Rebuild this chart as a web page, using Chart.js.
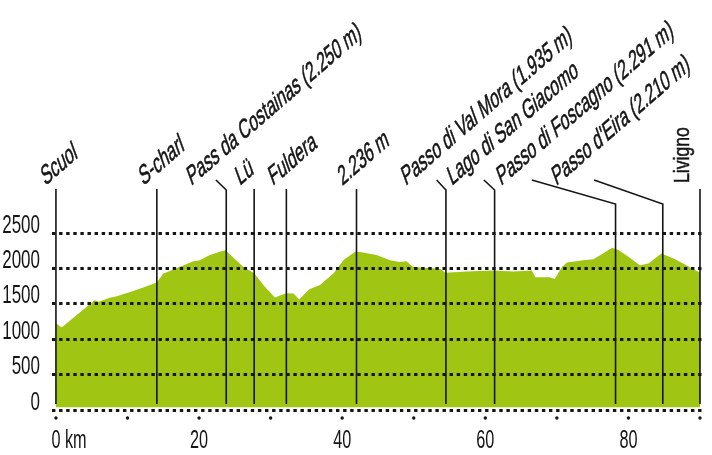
<!DOCTYPE html>
<html>
<head>
<meta charset="utf-8">
<script src="https://cdn.jsdelivr.net/npm/chart.js@4/dist/chart.umd.min.js"></script>
<style>
  body { margin: 0; background: #fff; }
</style>
</head>
<body>
<canvas id="profile" width="712" height="455"></canvas>
<script>
// ===== DATA =====
// route profile: distance (km) and height (m)
const routeKm = [0, 0.8, 5.4, 6.0, 7.5, 8.5, 10.8, 12.5, 14.1, 15.0, 15.5, 16.9, 19.2, 20.1, 21.5, 23.0, 23.7,
  24.8, 26.2, 27.7, 29.1, 30.6, 31.5, 32.2, 33.2, 34.0, 35.4, 36.9, 38.8, 40.2, 41.8, 42.5, 44.8, 46.7,
  48.0, 49.0, 49.9, 53.7, 54.4, 57.4, 61.1, 63.9, 66.5, 67.0, 69.0, 69.7, 70.7, 71.4, 73.7, 75.1, 76.5,
  77.7, 78.6, 80.0, 81.6, 82.8, 84.6, 86.3, 88.1, 90.0];
const routeHeight = [1225, 1165, 1550, 1530, 1585, 1608, 1680, 1740, 1800, 1928, 1946, 2005, 2100, 2116, 2188, 2240, 2258,
  2150, 2019, 1930, 1750, 1590, 1625, 1650, 1645, 1560, 1706, 1765, 1930, 2120, 2236, 2232, 2188, 2116,
  2091, 2100, 2019, 1995, 1938, 1957, 1971, 1957, 1971, 1874, 1874, 1850, 2019, 2082, 2116, 2130, 2213,
  2291, 2260, 2163, 2043, 2068, 2210, 2140, 2043, 1938];

// places along the route
const placeNames = ["Scuol", "S-charl", "Pass da Costainas (2.250 m)", "Lü", "Fuldera", "2.236 m",
  "Passo di Val Mora (1.935 m)", "Lago di San Giacomo", "Passo di Foscagno (2.291 m)",
  "Passo d'Eira (2.210 m)", "Livigno"];
const placeKm = [0, 14.1, 23.8, 27.7, 32.2, 42.0, 54.5, 61.3, 78.2, 84.8, 90.0];

// axis ticks
const kmTicks = [0, 10, 20, 30, 40, 50, 60, 70, 80, 90];
const kmLabels = ["0 km", "", "20", "", "40", "", "60", "", "80", ""];
const heightTicks = [0, 500, 1000, 1500, 2000, 2500];
const heightLabels = ["0", "500", "1000", "1500", "2000", "2500"];

// ===== LABEL LAYOUT (in km, so it follows the x scale) =====
const textKm = [-1.5, 12.2, 18.9, 25.7, 30.3, 40.0, 48.9, 55.3, 62.2, 69.9, null];
const leaderKm = [0, 14.1, 22.36, 27.7, 32.2, 42.0, 53.2, 59.8, 66.5, 75.2, 90.0];
const bendDrop = [0, 0, 10, 0, 0, 0, 10, 10, 24, 24, 0];

const GREEN = "#a0c613";
const INK = "#151515";
const FONT = '"Liberation Sans", Arial, sans-serif';

// condensed text helper
function narrowText(ctx, text, x, y, size, squeeze, align) {
  ctx.save();
  ctx.font = size + "px " + FONT;
  ctx.translate(x, y);
  ctx.scale(squeeze, 1);
  ctx.textAlign = align;
  ctx.textBaseline = "alphabetic";
  ctx.fillText(text, 0, 0);
  ctx.restore();
}

// ===== AXIS LABELS (positions from the chart scales) =====
const axisLabelsPlugin = {
  id: "axisLabels",
  afterDraw(chart) {
    const ctx = chart.ctx;
    const { x, y } = chart.scales;
    ctx.save();
    ctx.fillStyle = INK;

    y.ticks.forEach((t, i) => {
      narrowText(ctx, heightLabels[i], 40, y.getPixelForValue(t.value) - 0.5, 25, 0.68, "right");
    });

    x.ticks.forEach((t, i) => {
      const label = kmLabels[i];
      if (!label) return;
      const px = x.getPixelForValue(t.value);
      if (i === 0) {
        // "0" sits on the tick, "km" runs to the right
        ctx.font = "25px " + FONT;
        const half = ctx.measureText("0").width * 0.65 / 2;
        narrowText(ctx, label, px - half, 448, 25, 0.65, "left");
      } else {
        narrowText(ctx, label, px, 448, 25, 0.65, "center");
      }
    });

    // small dots under the km axis
    kmTicks.forEach(v => {
      ctx.beginPath();
      ctx.arc(x.getPixelForValue(v), chart.chartArea.bottom + 8, 1.7, 0, Math.PI * 2);
      ctx.fill();
    });
    ctx.restore();
  }
};

// ===== PLACE LABELS + LINES =====
const placesPlugin = {
  id: "places",
  afterDraw(chart) {
    const ctx = chart.ctx;
    const x = chart.scales.x;
    const area = chart.chartArea;
    const lineEnd = area.bottom - 6;
    const textY = 186;
    const a = 41 * Math.PI / 180;   // baseline angle
    const b = 110 * Math.PI / 180;  // direction of the letter stems
    const s1 = 0.8, s2 = 1.18;

    ctx.save();
    ctx.strokeStyle = INK;
    ctx.fillStyle = INK;
    ctx.lineWidth = 1.6;

    placeNames.forEach((name, i) => {
      const px = x.getPixelForValue(placeKm[i]);
      const lx = x.getPixelForValue(leaderKm[i]);

      ctx.beginPath();
      if (bendDrop[i] > 0) {
        ctx.moveTo(lx, 180);
        ctx.lineTo(px, 180 + bendDrop[i]);
      } else {
        ctx.moveTo(px, 189);
      }
      ctx.lineTo(px, lineEnd);
      ctx.stroke();

      ctx.save();
      ctx.font = "22px " + FONT;
      if (textKm[i] === null) {
        ctx.translate(px - 11, 183);
        ctx.rotate(-Math.PI / 2);
        ctx.scale(0.8, 1.02);
      } else {
        ctx.translate(x.getPixelForValue(textKm[i]), textY);
        ctx.transform(Math.cos(a) * s1, -Math.sin(a) * s1, -Math.cos(b) * s2, Math.sin(b) * s2, 0, 0);
      }
      ctx.textAlign = "left";
      ctx.textBaseline = "alphabetic";
      ctx.lineWidth = 0.5;
      ctx.fillText(name, 0, 0);
      ctx.strokeText(name, 0, 0);
      ctx.restore();
    });
    ctx.restore();
  }
};

new Chart(document.getElementById("profile"), {
  type: "line",
  data: {
    datasets: [{
      data: routeKm.map((k, i) => ({ x: k, y: routeHeight[i] })),
      borderWidth: 0,
      borderColor: GREEN,
      backgroundColor: GREEN,
      pointRadius: 0,
      tension: 0,
      fill: { value: 40 }
    }]
  },
  options: {
    responsive: false,
    animation: false,
    layout: { padding: { top: 233, right: 7, bottom: 0, left: 0 } },
    plugins: { legend: { display: false }, tooltip: { enabled: false } },
    scales: {
      x: {
        type: "linear",
        min: -0.55,
        max: 90.7,
        afterBuildTicks: s => { s.ticks = kmTicks.map(v => ({ value: v })); },
        afterFit: s => { s.height = 45; },
        grid: { display: false },
        border: { display: false },
        ticks: { display: false }
      },
      y: {
        min: 0,
        max: 2500,
        afterBuildTicks: s => { s.ticks = heightTicks.map(v => ({ value: v })); },
        afterFit: s => { s.width = 52; },
        border: { display: false, dash: [3.4, 3.7] },
        grid: {
          z: 1,
          color: INK,
          lineWidth: 3,
          drawTicks: false
        },
        ticks: { display: false }
      }
    }
  },
  plugins: [axisLabelsPlugin, placesPlugin]
});
</script>
</body>
</html>
